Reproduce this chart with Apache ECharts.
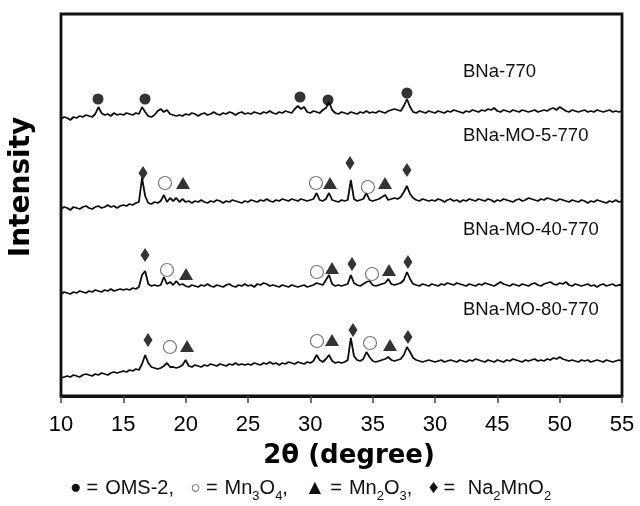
<!DOCTYPE html>
<html>
<head>
<meta charset="utf-8">
<script src="https://cdn.jsdelivr.net/npm/echarts@6/dist/echarts.min.js"></script>
<style>html,body{margin:0;padding:0;background:#fff}#c{width:640px;height:506px}</style>
</head>
<body>
<div id="c"></div>
<script>
// ---- data ----
const xStart = 10, xStep = 0.25; // 2θ sampling of the patterns
const tickLabels = ['10','15','20','25','30','35','30','45','50','55'];
const seriesNames = ['BNa-770','BNa-MO-5-770','BNa-MO-40-770','BNa-MO-80-770'];

const bna770 = [
277,279,278,276,279,278,280,279,281,280,279,282,289,283,281,282,280,283,281,282,
281,283,282,281,283,282,289,284,280,279,281,285,287,284,286,282,281,280,281,280,
282,281,283,282,280,282,283,281,282,284,282,281,283,282,284,283,281,283,284,282,
283,282,284,283,282,284,283,285,283,282,284,283,285,284,283,287,290,287,289,284,
283,285,284,283,286,288,294,286,283,282,284,283,282,284,283,282,284,283,285,283,
284,283,285,284,283,285,286,287,286,285,290,297,289,284,283,285,284,283,285,284,
283,285,284,283,285,284,286,285,284,283,285,284,286,285,284,286,285,287,286,288,
285,284,286,285,284,286,285,284,286,285,284,285,286,284,285,286,285,287,288,286,
289,287,285,284,286,285,284,285,286,284,285,284,286,285,284,285,286,284,285,284,
285];
const bnaMO5 = [
187,189,188,186,189,188,187,189,190,188,187,189,190,188,189,191,189,190,188,190,
191,190,192,191,193,194,218,200,193,192,194,193,195,201,194,198,195,198,194,197,
194,195,193,195,194,196,194,193,195,194,196,195,193,195,194,196,195,194,193,195,
194,196,195,194,196,195,197,195,194,196,195,197,196,195,197,196,195,197,196,195,
196,197,203,196,195,197,203,196,195,194,196,195,196,216,197,195,196,197,203,196,
195,196,197,199,201,196,197,198,197,199,204,210,202,198,196,195,197,196,195,196,
195,197,196,194,196,197,195,196,194,196,195,197,196,195,197,196,195,197,196,194,
196,195,197,196,195,194,196,197,195,196,198,197,196,195,197,196,198,197,196,195,
197,196,195,194,196,195,194,196,195,193,195,194,196,195,194,193,195,194,196,194,
195];
const bnaMO40 = [
102,104,103,102,104,103,105,104,103,105,104,106,105,104,106,105,107,105,106,107,
106,107,106,108,107,109,121,125,112,110,111,110,111,119,112,114,111,115,111,112,
110,109,111,110,109,111,110,112,110,109,111,110,109,111,112,110,109,111,110,112,
110,111,109,112,111,113,112,110,111,110,109,111,110,109,111,110,109,110,111,109,
110,111,113,112,111,116,121,112,110,111,110,111,112,121,113,111,110,112,114,115,
111,110,111,112,113,117,112,111,112,113,116,124,117,112,111,110,112,111,110,112,
111,110,112,111,113,112,111,113,112,111,110,112,111,110,112,111,113,112,111,110,
112,114,112,111,110,112,111,110,112,111,110,112,113,111,110,112,113,114,112,111,
113,112,114,111,110,112,111,110,111,112,110,111,109,111,112,110,111,112,110,111,
111];
const bnaMO80 = [
18,19,20,19,21,20,19,21,22,21,20,22,21,23,22,21,23,24,23,24,
25,24,26,25,27,26,32,41,33,29,28,27,28,30,33,29,29,28,29,31,
36,30,29,31,30,29,31,30,32,31,30,32,31,30,32,31,33,31,32,31,
32,31,33,32,31,33,32,34,32,33,31,33,32,34,33,32,34,33,32,34,
33,35,41,36,34,37,41,35,33,34,33,34,36,58,40,36,35,37,44,39,
35,34,35,36,37,39,36,35,36,37,41,49,44,38,36,35,34,35,36,35,
34,35,36,34,35,36,35,34,36,35,34,36,35,37,36,35,34,36,35,34,
36,35,34,36,35,37,36,35,34,36,35,36,37,35,36,35,37,36,38,37,
39,37,36,35,36,35,34,36,35,36,34,35,36,35,34,36,35,34,35,36,
35];

// phase markers [2θ, intensity]
const omsPeaks   = [[12.97,297],[16.74,297],[29.17,299],[31.42,296],[37.75,303]];
const mn3o4Peaks = [[18.34,213],[30.45,213],[34.62,209],[18.50,126],[30.53,124],[34.95,122],[18.74,49],[30.53,55],[34.79,53]];
const mn2o3Peaks = [[19.79,213],[31.58,213],[35.99,213],[20.03,122],[31.74,128],[36.31,126],[20.11,50],[31.74,56],[36.39,51]];
const na2mno2Peaks = [[16.58,223],[33.18,233],[37.75,226],[16.74,141],[33.34,132],[37.83,134],[16.98,56],[33.42,66],[37.83,59]];

// ---- chart ----
const toXY = vals => vals.map((v, i) => [xStart + xStep * i, v]);
const patterns = [bna770, bnaMO5, bnaMO40, bnaMO80];
const labelY = [72, 136, 230, 310];

const chart = echarts.init(document.getElementById('c'), null, {renderer: 'canvas'});
const FONT = '"Liberation Sans", Arial, sans-serif';

const series = patterns.map((p, k) => ({
  name: seriesNames[k], type: 'line', data: toXY(p), showSymbol: false,
  lineStyle: {color: '#0d0d0d', width: 1.8}, z: 2
}));
series.push(
  {name: 'OMS-2', type: 'scatter', data: omsPeaks, symbol: 'circle', symbolSize: 11,
   itemStyle: {color: '#000'}, z: 3},
  {name: 'Mn3O4', type: 'scatter', data: mn3o4Peaks, symbol: 'circle', symbolSize: 13,
   itemStyle: {color: '#fff', borderColor: '#555', borderWidth: 1.2}, z: 3},
  {name: 'Mn2O3', type: 'scatter', data: mn2o3Peaks, symbol: 'triangle', symbolSize: [14, 12],
   itemStyle: {color: '#000'}, z: 3},
  {name: 'Na2MnO2', type: 'scatter', data: na2mno2Peaks, symbol: 'diamond', symbolSize: [9, 14],
   itemStyle: {color: '#000'}, z: 3}
);

const rs = (fs, extra) => Object.assign({fontFamily: FONT, fontSize: fs, lineHeight: 30,
  verticalAlign: 'middle', color: '#111'}, extra || {});

chart.setOption({
  animation: false,
  backgroundColor: '#fff',
  grid: {left: 61, right: 18, top: 14, bottom: 110, show: true,
         borderColor: '#111', borderWidth: 2.8, backgroundColor: 'transparent'},
  xAxis: {
    type: 'value', min: 10, max: 55, interval: 5,
    name: '2θ (degree)', nameLocation: 'middle', nameGap: 47,
    nameTextStyle: {fontFamily: '"DejaVu Sans", sans-serif', fontWeight: 'bold', fontSize: 26,
                    color: '#000', padding: [0, 0, 0, 15]},
    axisLine: {show: true, lineStyle: {color: '#111', width: 2.8}},
    axisTick: {show: true, inside: false, length: 7, lineStyle: {color: '#444', width: 1.5}},
    axisLabel: {fontFamily: FONT, fontSize: 22, color: '#000', margin: 18,
                formatter: (v, idx) => tickLabels[Math.round((v - 10) / 5)]},
    splitLine: {show: false}
  },
  yAxis: {
    type: 'value', min: 0, max: 382,
    name: 'Intensity', nameLocation: 'middle', nameGap: 25,
    nameTextStyle: {fontFamily: '"DejaVu Sans", sans-serif', fontWeight: 'bold', fontSize: 28,
                    color: '#000', padding: [0, 0, 0, 36]},
    axisLine: {show: false}, axisTick: {show: false}, axisLabel: {show: false},
    splitLine: {show: false}
  },
  title: {
    left: 70, top: 473, padding: 0,
    text: '{s|●}{e|=}OMS-2,{g| }{o|○}{e|=}Mn{b|3}O{b|4},{g| }{t|▲}{e|=}Mn{b|2}O{b|3},{g| }{d|♦}{e|=} Na{b|2}MnO{b|2}',
    textStyle: {
      fontFamily: FONT, fontSize: 20, fontWeight: 'normal', color: '#111', lineHeight: 30,
      rich: {
        s: rs(19),
        o: rs(17, {color: '#444'}),
        t: rs(21),
        d: rs(19),
        e: rs(20, {padding: [0, 7, 0, 5]}),
        g: rs(20, {padding: [0, 5, 0, 6]}),
        b: {fontFamily: FONT, fontSize: 13, lineHeight: 14, verticalAlign: 'bottom', color: '#111'}
      }
    }
  },
  graphic: seriesNames.map((n, k) => ({
    type: 'text', x: 463, y: labelY[k], z: 10,
    style: {text: n, fontFamily: FONT, fontSize: 18.5, fill: '#111', align: 'left', verticalAlign: 'middle'}
  })),
  series: series
});
</script>
</body>
</html>
